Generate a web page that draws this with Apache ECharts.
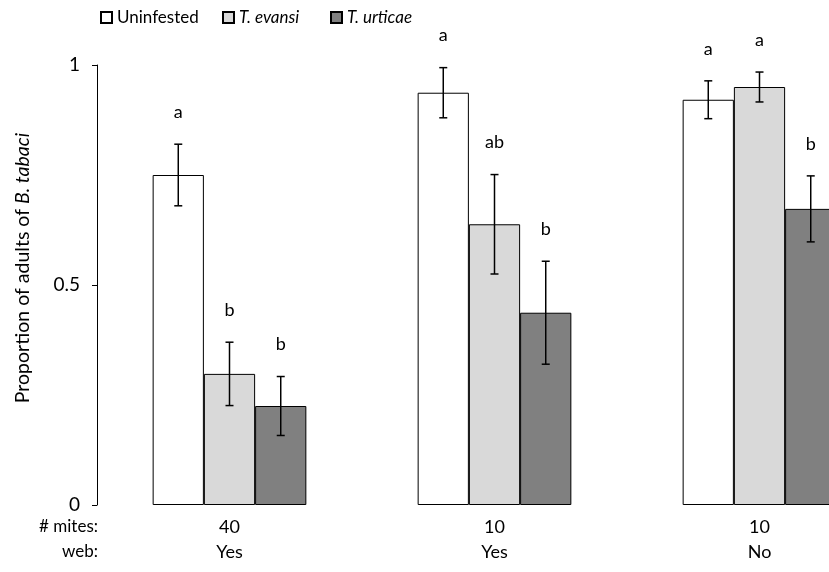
<!DOCTYPE html>
<html>
<head>
<meta charset="utf-8">
<script src="https://cdn.jsdelivr.net/npm/echarts@6/dist/echarts.min.js"></script>
<style>html,body{margin:0;padding:0;background:#fff;overflow:hidden;width:829px;height:572px}#c{width:892px;height:572px}</style>
</head>
<body>
<div id="c"></div>
<script>
const mites = ['40', '10', '10'];
const web = ['Yes', 'Yes', 'No'];
const seriesNames = ['Uninfested', 'T. evansi', 'T. urticae'];
const uninfested = [0.75, 0.937, 0.921];
const uninfestedErr = [0.07, 0.057, 0.043];
const evansi = [0.298, 0.638, 0.95];
const evansiErr = [0.072, 0.113, 0.034];
const urticae = [0.225, 0.437, 0.673];
const urticaeErr = [0.067, 0.117, 0.075];
const uninfestedLetters = ['a', 'a', 'a'];
const evansiLetters = ['b', 'ab', 'a'];
const urticaeLetters = ['b', 'b', 'b'];
const yTicks = [0, 0.5, 1];

const FONT = 'Lato';
const FS = 18;
const means = [uninfested, evansi, urticae];
const errs = [uninfestedErr, evansiErr, urticaeErr];
const letters = [uninfestedLetters, evansiLetters, urticaeLetters];
const fills = ['#ffffff', '#d9d9d9', '#808080'];
const CAT_GAP = 0.42;
const legendLefts = [95, 217, 325];

const errData = [];
for (let s = 0; s < 3; s++) {
  for (let c = 0; c < 3; c++) {
    errData.push([c, means[s][c] - errs[s][c], means[s][c] + errs[s][c], s]);
  }
}

const chart = echarts.init(document.getElementById('c'));
chart.setOption({
  animation: false,
  textStyle: { fontFamily: FONT, color: '#000' },
  legend: [0, 1, 2].map(s => ({
    left: legendLefts[s], top: 4,
    itemWidth: 11, itemHeight: 11,
    icon: 'rect',
    selectedMode: false,
    textStyle: { fontFamily: FONT, fontSize: 17, color: '#000', fontStyle: s === 0 ? 'normal' : 'italic' },
    data: [seriesNames[s]]
  })),
  grid: { left: 97, right: 0, top: 65, bottom: 67 },
  xAxis: {
    type: 'category',
    data: mites.map((m, i) => m + '\n' + web[i]),
    axisLine: { show: false },
    axisTick: { show: false },
    axisLabel: { fontFamily: FONT, fontSize: FS, color: '#000', lineHeight: 25, margin: 10 }
  },
  yAxis: {
    type: 'value', min: yTicks[0], max: yTicks[yTicks.length - 1], interval: yTicks[1] - yTicks[0],
    axisLine: { show: true, lineStyle: { color: '#000', width: 1 } },
    axisTick: { show: true, length: 5, lineStyle: { color: '#000' } },
    splitLine: { show: false },
    axisLabel: { fontFamily: FONT, fontSize: 19, color: '#000', margin: 17 }
  },
  graphic: [
    {
      type: 'text', x: 23, y: 268, rotation: Math.PI / 2,
      style: {
        text: '{n|Proportion of adults of }{i|B. tabaci}',
        align: 'center', verticalAlign: 'middle',
        rich: {
          n: { fontFamily: FONT, fontSize: 19.5, fill: '#000' },
          i: { fontFamily: FONT, fontSize: 19.5, fontStyle: 'italic', fill: '#000' }
        }
      }
    },
    { type: 'text', x: 98, y: 527, style: { text: '# mites:', font: '17px ' + FONT, fill: '#000', align: 'right', verticalAlign: 'middle' } },
    { type: 'text', x: 98, y: 552, style: { text: 'web:', font: '17px ' + FONT, fill: '#000', align: 'right', verticalAlign: 'middle' } }
  ],
  series: [0, 1, 2].map(s => ({
    name: seriesNames[s],
    type: 'bar',
    barGap: '0%',
    barCategoryGap: (CAT_GAP * 100) + '%',
    data: means[s],
    itemStyle: { color: fills[s], borderColor: '#000', borderWidth: 1 },
    emphasis: { disabled: true }
  })).concat([{
    type: 'custom',
    name: 'err',
    data: errData,
    encode: { x: 0, y: 2 },
    z: 10,
    renderItem: function (params, api) {
      const c = api.value(0), lo = api.value(1), hi = api.value(2), s = api.value(3);
      const band = api.size([1, 0])[0];
      const bw = band * (1 - CAT_GAP) / 3;
      const pLo = api.coord([c, lo]);
      const pHi = api.coord([c, hi]);
      const x = pLo[0] + (s - 1) * bw;
      const cap = 4;
      const st = { stroke: '#000', lineWidth: 1.5 };
      return {
        type: 'group',
        children: [
          { type: 'line', shape: { x1: x, y1: pLo[1], x2: x, y2: pHi[1] }, style: st },
          { type: 'line', shape: { x1: x - cap, y1: pLo[1], x2: x + cap, y2: pLo[1] }, style: st },
          { type: 'line', shape: { x1: x - cap, y1: pHi[1], x2: x + cap, y2: pHi[1] }, style: st },
          { type: 'text', x: x, y: pHi[1] - 32, style: { text: letters[s][c], font: FS + 'px ' + FONT, fill: '#000', align: 'center', verticalAlign: 'middle' } }
        ]
      };
    }
  }])
});
</script>
</body>
</html>
